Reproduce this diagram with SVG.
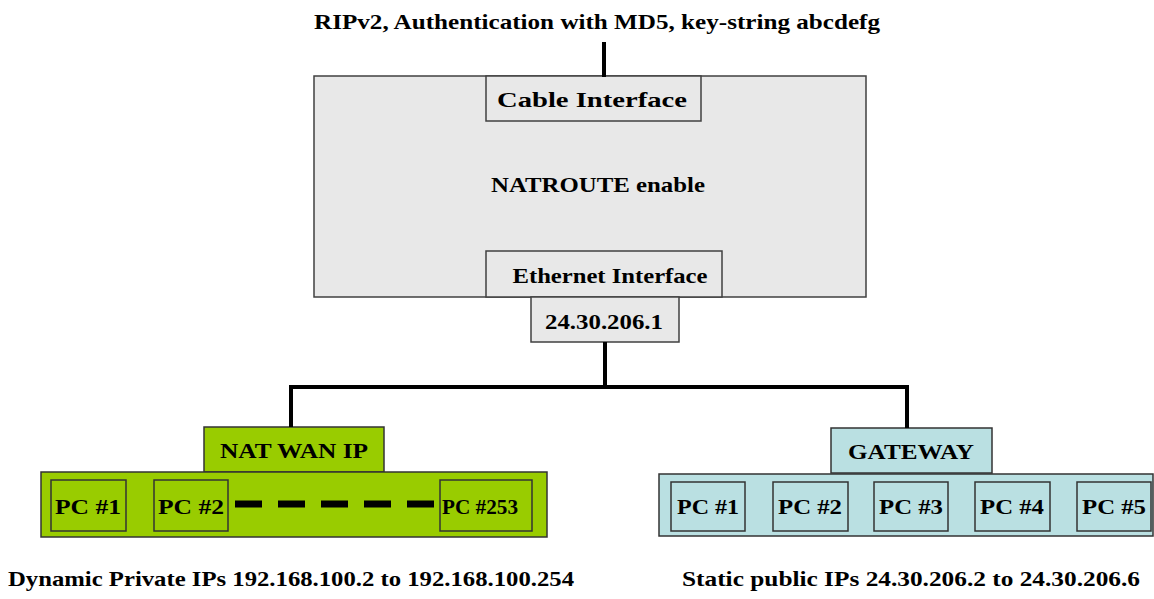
<svg xmlns="http://www.w3.org/2000/svg" width="1154" height="599" viewBox="0 0 1154 599">
  <style>
    text { font-family: "Liberation Serif", "DejaVu Serif", serif; font-weight: bold; fill: #000; text-anchor: middle; font-size: 22px; }
    .router { fill: #e8e8e8; stroke: #404040; stroke-width: 1.5; }
    .nat { fill: #99cc00; stroke: #333; stroke-width: 1.5; }
    .pub { fill: #bae0e2; stroke: #333; stroke-width: 1.5; }
    .wire { stroke: #000; stroke-width: 4; fill: none; }
  </style>

  <!-- routing label -->
  <g id="rip-label">
    <text x="597" y="29" textLength="566" lengthAdjust="spacingAndGlyphs">RIPv2, Authentication with MD5, key-string abcdefg</text>
  </g>

  <!-- router -->
  <g id="router">
    <rect class="router" x="314" y="76" width="552" height="221"/>
    <text x="598" y="192" textLength="214" lengthAdjust="spacingAndGlyphs">NATROUTE enable</text>
  </g>
  <g id="cable-interface">
    <rect class="router" x="486" y="76" width="215" height="45"/>
    <text x="592" y="107" textLength="190" lengthAdjust="spacingAndGlyphs">Cable Interface</text>
  </g>
  <g id="ethernet-interface">
    <rect class="router" x="486" y="251" width="236" height="46"/>
    <text x="610" y="283" textLength="195" lengthAdjust="spacingAndGlyphs">Ethernet Interface</text>
  </g>
  <g id="ethernet-ip">
    <rect class="router" x="531" y="297" width="148" height="45"/>
    <text x="604" y="329" textLength="118" lengthAdjust="spacingAndGlyphs">24.30.206.1</text>
  </g>

  <!-- private NAT segment -->
  <g id="nat-wan-ip">
    <rect class="nat" x="204" y="427" width="180" height="45"/>
    <text x="294" y="458" textLength="148" lengthAdjust="spacingAndGlyphs">NAT WAN IP</text>
  </g>
  <g id="nat-lan">
    <rect class="nat" x="41" y="472" width="506" height="65"/>
  </g>
  <g id="nat-pc1">
    <rect class="nat" x="51" y="480" width="75" height="51"/>
    <text x="88" y="514" textLength="66" lengthAdjust="spacingAndGlyphs">PC #1</text>
  </g>
  <g id="nat-pc2">
    <rect class="nat" x="154" y="480" width="74" height="51"/>
    <text x="191" y="514" textLength="66" lengthAdjust="spacingAndGlyphs">PC #2</text>
  </g>
  <g id="nat-pc253">
    <rect class="nat" x="440" y="480" width="92" height="51"/>
    <text x="480" y="514" textLength="76" lengthAdjust="spacingAndGlyphs">PC #253</text>
  </g>

  <!-- public segment -->
  <g id="gateway">
    <rect class="pub" x="831" y="428" width="161" height="45"/>
    <text x="911" y="459" textLength="126" lengthAdjust="spacingAndGlyphs">GATEWAY</text>
  </g>
  <g id="public-lan">
    <rect class="pub" x="659" y="474" width="494" height="62"/>
  </g>
  <g id="pub-pc1">
    <rect class="pub" x="671" y="482" width="74" height="49"/>
    <text x="708" y="514" textLength="62" lengthAdjust="spacingAndGlyphs">PC #1</text>
  </g>
  <g id="pub-pc2">
    <rect class="pub" x="773" y="482" width="75" height="49"/>
    <text x="810" y="514" textLength="64" lengthAdjust="spacingAndGlyphs">PC #2</text>
  </g>
  <g id="pub-pc3">
    <rect class="pub" x="874" y="482" width="74" height="49"/>
    <text x="911" y="514" textLength="64" lengthAdjust="spacingAndGlyphs">PC #3</text>
  </g>
  <g id="pub-pc4">
    <rect class="pub" x="975" y="482" width="75" height="49"/>
    <text x="1012" y="514" textLength="64" lengthAdjust="spacingAndGlyphs">PC #4</text>
  </g>
  <g id="pub-pc5">
    <rect class="pub" x="1077" y="482" width="74" height="49"/>
    <text x="1114" y="514" textLength="64" lengthAdjust="spacingAndGlyphs">PC #5</text>
  </g>

  <!-- connectors, drawn last so they sit on top of the segment fills -->
  <g id="connectors">
    <line class="wire" x1="604" y1="42" x2="604" y2="77"/>
    <line class="wire" x1="605" y1="342" x2="605" y2="387"/>
    <polyline class="wire" points="291,427 291,387 907,387 907,428"/>
    <line stroke="#000" stroke-width="7" stroke-dasharray="27 16" x1="235" y1="504" x2="440" y2="504"/>
  </g>

  <!-- address ranges -->
  <g id="private-range">
    <text x="291" y="586" textLength="566" lengthAdjust="spacingAndGlyphs">Dynamic Private IPs 192.168.100.2 to 192.168.100.254</text>
  </g>
  <g id="public-range">
    <text x="911" y="586" textLength="458" lengthAdjust="spacingAndGlyphs">Static public IPs 24.30.206.2 to 24.30.206.6</text>
  </g>
</svg>
